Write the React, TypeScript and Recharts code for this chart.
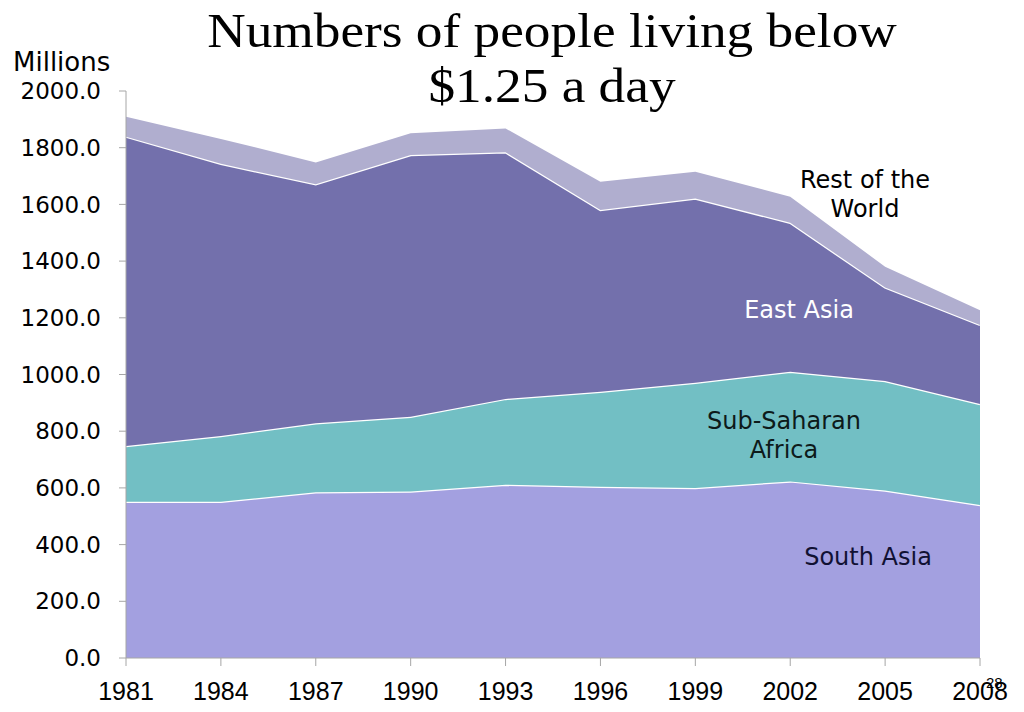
import { AreaChart, Area, XAxis, YAxis } from 'recharts'

const years = ['1981', '1984', '1987', '1990', '1993', '1996', '1999', '2002', '2005', '2008']
const southAsia = [551, 551, 585, 587, 611, 604, 600, 623, 591, 540]
const subSaharanAfrica = [197, 232, 243, 264, 303, 335, 371, 387, 386, 356]
const eastAsia = [1091, 960, 843, 923, 870, 641, 650, 525, 330, 279]
const restOfWorld = [70, 88, 77, 77, 84, 100, 94, 92, 73, 52]
const yTicks = [0, 200, 400, 600, 800, 1000, 1200, 1400, 1600, 1800, 2000]

const data = years.map((year, i) => ({
  year,
  southAsia: southAsia[i],
  ssa: subSaharanAfrica[i],
  eastAsia: eastAsia[i],
  rest: restOfWorld[i],
}))

const sans = '"DejaVu Sans", Verdana, sans-serif'

const label = (left: number, top: number, color: string): React.CSSProperties => ({
  position: 'absolute',
  left,
  top,
  transform: 'translate(-50%, -50%)',
  color,
  fontFamily: sans,
  fontSize: 24,
  lineHeight: '29px',
  textAlign: 'center',
  whiteSpace: 'nowrap',
})

export default function App() {
  return (
    <div style={{ position: 'absolute', left: 0, top: 0, width: 1024, height: 712, background: '#fff' }}>
      <AreaChart width={1024} height={712} data={data} margin={{ top: 91, right: 44, bottom: 0, left: 0 }}>
        <XAxis
          dataKey="year"
          height={54}
          stroke="#A6A6A6"
          tickSize={8}
          tickMargin={16}
          interval={0}
          tick={{ fill: '#000', fontSize: 25, fontFamily: '"Liberation Sans", Arial' }}
        />
        <YAxis
          width={126}
          domain={[0, 2000]}
          ticks={yTicks}
          stroke="#A6A6A6"
          tickSize={7}
          tickMargin={18}
          interval={0}
          tickFormatter={(v: number) => v.toFixed(1)}
          tick={{ fill: '#000', fontSize: 23, fontFamily: sans }}
        />
        <Area dataKey="southAsia" stackId="1" type="linear" fill="#A3A0E0" fillOpacity={1} stroke="#fff" strokeWidth={2.5} isAnimationActive={false} />
        <Area dataKey="ssa" stackId="1" type="linear" fill="#72BFC4" fillOpacity={1} stroke="#fff" strokeWidth={2.5} isAnimationActive={false} />
        <Area dataKey="eastAsia" stackId="1" type="linear" fill="#7370AC" fillOpacity={1} stroke="#fff" strokeWidth={2.5} isAnimationActive={false} />
        <Area dataKey="rest" stackId="1" type="linear" fill="#B0AECF" fillOpacity={1} stroke="none" isAnimationActive={false} />
      </AreaChart>

      <div
        style={{
          position: 'absolute',
          left: 552,
          top: 3,
          transform: 'translateX(-50%) scaleX(1.11)',
          fontFamily: '"Liberation Serif", "Times New Roman", serif',
          fontSize: 48,
          lineHeight: '55px',
          textAlign: 'center',
          whiteSpace: 'nowrap',
          color: '#000',
        }}
      >
        Numbers of people living below
        <br />
        $1.25 a day
      </div>
      <div style={{ position: 'absolute', left: 13, top: 47, fontFamily: sans, fontSize: 26, color: '#000' }}>Millions</div>
      <div style={label(865, 195, '#000')}>
        Rest of the
        <br />
        World
      </div>
      <div style={label(799, 310, '#fff')}>East Asia</div>
      <div style={label(784, 436, '#0d1a1a')}>
        Sub-Saharan
        <br />
        Africa
      </div>
      <div style={label(868, 557, '#111133')}>South Asia</div>
      <div style={{ position: 'absolute', left: 986, top: 674, fontFamily: '"Liberation Sans", Arial', fontSize: 15, color: '#000' }}>28</div>
    </div>
  )
}
